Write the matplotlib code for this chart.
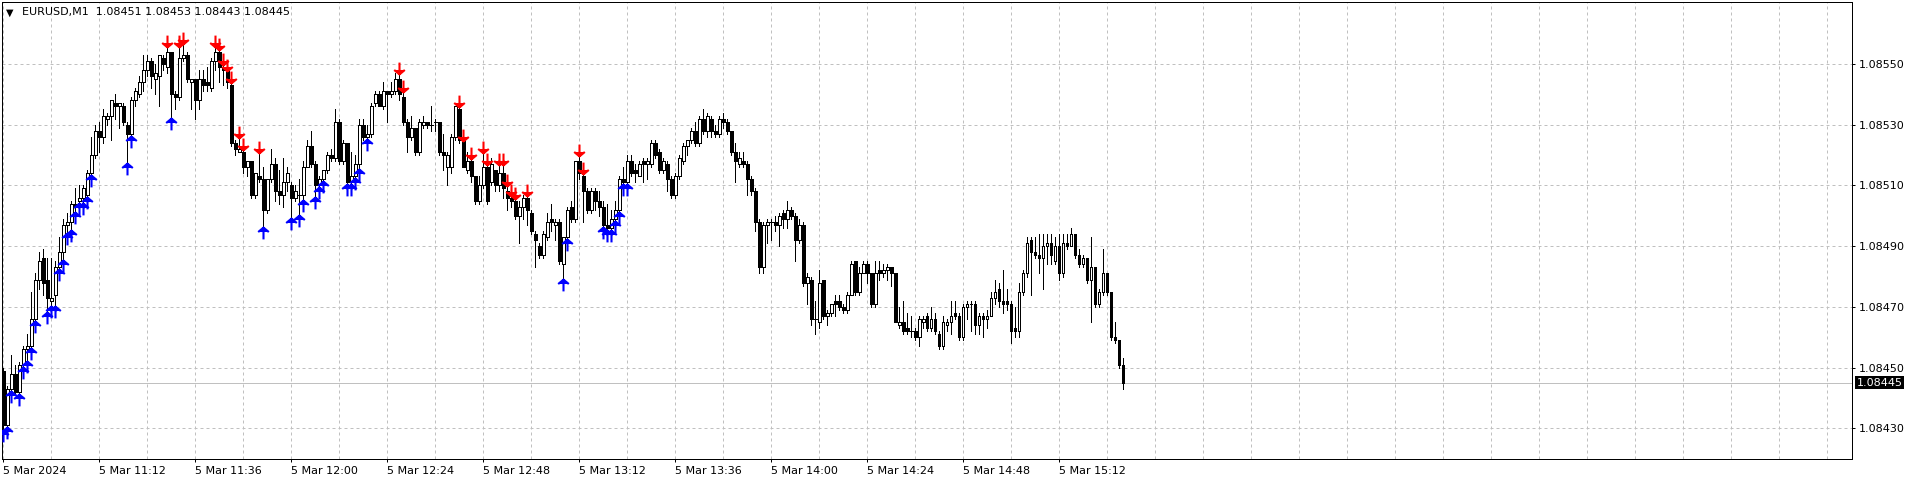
import matplotlib
matplotlib.use("Agg")

import matplotlib.pyplot as plt
import matplotlib.transforms as mtransforms
from matplotlib.path import Path
from matplotlib.ticker import MultipleLocator, FixedLocator
import numpy as np

SYMBOL = "EURUSD,M1"

# prices in points above 1.08000 (1 point = 0.00001), one bar per minute
BASE = 1.08
OPEN_PTS = [
    449, 431, 443, 448, 442, 451, 456, 457, 466, 479, 486, 479, 472, 474, 483, 488, 497, 498, 504, 505,
    506, 507, 514, 520, 528, 526, 532, 533, 537, 536, 536, 530, 527, 538, 540, 544, 548, 551, 545, 546,
    552, 549, 554, 540, 539, 552, 553, 544, 545, 538, 545, 544, 542, 551, 554, 549, 548, 543, 524, 521,
    521, 516, 518, 507, 513, 512, 502, 512, 517, 508, 507, 511, 510, 506, 507, 507, 516, 523, 517, 510,
    512, 515, 520, 519, 531, 518, 524, 511, 513, 517, 530, 526, 527, 537, 540, 536, 541, 540, 541, 545,
    539, 531, 526, 529, 521, 530, 531, 530, 531, 531, 521, 516, 516, 526, 535, 525, 515, 518, 513, 505,
    510, 516, 511, 515, 510, 514, 508, 506, 505, 500, 503, 506, 501, 494, 490, 487, 493, 499, 497, 498,
    484, 493, 503, 499, 518, 513, 508, 502, 508, 505, 503, 497, 496, 499, 502, 512, 511, 518, 515, 513,
    518, 517, 517, 524, 521, 515, 517, 512, 507, 513, 518, 523, 525, 528, 524, 532, 528, 532, 528, 527,
    532, 531, 528, 521, 517, 518, 517, 512, 508, 498, 483, 497, 498, 498, 497, 501, 499, 502, 500, 492,
    497, 478, 479, 466, 465, 479, 467, 468, 472, 472, 470, 469, 474, 485, 475, 481, 484, 481, 471, 482,
    481, 482, 483, 481, 464, 465, 463, 462, 462, 460, 465, 467, 463, 466, 461, 457, 464, 465, 468, 467,
    460, 470, 471, 471, 464, 467, 466, 467, 473, 476, 472, 472, 471, 463, 462, 475, 481, 492, 488, 487,
    486, 490, 491, 485, 490, 481, 491, 490, 494, 487, 484, 486, 479, 483, 471, 475, 481, 475, 460, 459,
    451,
]
HIGH_PTS = [
    450, 444, 454, 451, 452, 457, 461, 475, 481, 488, 489, 486, 486, 485, 493, 499, 501, 505, 509, 510,
    510, 515, 526, 530, 531, 535, 534, 538, 540, 537, 537, 531, 539, 542, 546, 553, 553, 552, 550, 553,
    553, 556, 554, 541, 556, 557, 554, 545, 545, 548, 548, 549, 552, 556, 555, 550, 548, 544, 525, 526,
    522, 518, 518, 514, 521, 516, 512, 522, 519, 515, 519, 516, 511, 510, 512, 518, 525, 528, 518, 513,
    515, 521, 522, 535, 532, 525, 524, 521, 520, 532, 532, 530, 537, 541, 541, 544, 541, 544, 547, 547,
    541, 532, 533, 529, 532, 533, 531, 536, 532, 531, 527, 521, 527, 536, 536, 525, 521, 519, 513, 513,
    521, 517, 519, 515, 517, 517, 510, 507, 506, 505, 507, 507, 502, 495, 491, 495, 501, 504, 499, 499,
    493, 503, 505, 518, 520, 514, 509, 509, 509, 508, 505, 504, 502, 505, 513, 516, 520, 520, 517, 518,
    519, 519, 525, 525, 522, 519, 518, 513, 514, 520, 524, 525, 529, 531, 533, 535, 534, 533, 530, 533,
    534, 532, 528, 524, 521, 521, 518, 513, 509, 499, 498, 499, 499, 500, 501, 502, 505, 503, 501, 499,
    498, 481, 480, 472, 482, 479, 469, 471, 474, 474, 471, 475, 485, 485, 483, 485, 485, 481, 485, 485,
    484, 484, 483, 481, 470, 472, 468, 467, 463, 467, 467, 468, 470, 468, 462, 467, 466, 472, 472, 468,
    471, 472, 472, 472, 468, 468, 469, 475, 479, 478, 482, 476, 472, 470, 478, 482, 493, 493, 493, 494,
    494, 494, 494, 493, 494, 494, 494, 496, 494, 489, 487, 486, 493, 483, 476, 489, 481, 475, 465, 459,
    453,
]
LOW_PTS = [
    429, 430, 442, 441, 441, 450, 452, 456, 465, 476, 474, 468, 470, 470, 482, 485, 494, 495, 501, 504,
    504, 506, 513, 519, 521, 524, 530, 525, 532, 529, 530, 517, 526, 536, 539, 541, 546, 542, 540, 536,
    548, 547, 532, 535, 538, 551, 544, 535, 532, 535, 541, 541, 541, 548, 544, 543, 542, 523, 520, 521,
    514, 513, 506, 506, 511, 496, 501, 511, 505, 504, 503, 508, 499, 505, 500, 505, 516, 516, 506, 509,
    511, 514, 518, 518, 517, 517, 510, 510, 512, 515, 525, 525, 526, 536, 536, 535, 531, 539, 540, 538,
    530, 521, 525, 520, 520, 529, 529, 528, 528, 520, 515, 510, 514, 525, 524, 516, 514, 511, 504, 504,
    509, 504, 510, 508, 508, 506, 502, 503, 499, 491, 499, 497, 494, 483, 486, 486, 492, 495, 492, 484,
    479, 492, 498, 498, 512, 498, 501, 501, 502, 500, 496, 495, 495, 498, 501, 510, 510, 513, 511, 513,
    511, 512, 516, 519, 514, 514, 508, 506, 506, 512, 517, 520, 524, 523, 523, 527, 526, 526, 526, 526,
    529, 527, 520, 511, 516, 516, 507, 507, 495, 481, 481, 491, 492, 495, 490, 496, 496, 499, 485, 491,
    477, 471, 464, 461, 463, 466, 464, 467, 467, 469, 468, 468, 474, 474, 474, 481, 478, 470, 470, 479,
    480, 479, 477, 465, 463, 461, 461, 460, 459, 457, 463, 462, 462, 461, 456, 456, 462, 461, 466, 459,
    459, 466, 462, 461, 461, 460, 463, 467, 471, 470, 468, 469, 458, 460, 460, 474, 480, 474, 486, 481,
    476, 484, 484, 484, 479, 480, 489, 490, 486, 483, 483, 478, 465, 470, 470, 474, 474, 459, 458, 450,
    443,
]
CLOSE_PTS = [
    431, 443, 448, 442, 451, 456, 457, 466, 479, 485, 478, 473, 473, 483, 488, 497, 498, 504, 503, 506,
    509, 514, 520, 528, 526, 533, 533, 538, 536, 537, 531, 527, 538, 541, 544, 548, 551, 546, 547, 553,
    550, 554, 540, 539, 552, 553, 545, 545, 538, 545, 543, 543, 551, 554, 549, 548, 544, 524, 522, 522,
    516, 518, 507, 514, 512, 502, 512, 517, 508, 507, 511, 514, 506, 508, 507, 516, 523, 517, 510, 512,
    515, 520, 519, 531, 518, 524, 511, 513, 517, 530, 526, 527, 536, 540, 536, 541, 540, 541, 545, 540,
    531, 526, 529, 521, 531, 531, 530, 530, 531, 521, 520, 520, 526, 536, 525, 516, 518, 513, 505, 510,
    516, 505, 517, 510, 514, 509, 506, 505, 500, 503, 506, 502, 495, 492, 487, 494, 498, 498, 498, 485,
    493, 502, 499, 518, 514, 508, 502, 508, 505, 503, 497, 496, 499, 502, 512, 511, 518, 514, 514, 517,
    517, 518, 524, 520, 515, 518, 512, 507, 513, 519, 523, 525, 528, 524, 532, 528, 533, 528, 527, 532,
    531, 528, 521, 518, 519, 517, 512, 508, 498, 483, 497, 498, 498, 497, 500, 499, 502, 500, 492, 497,
    478, 480, 466, 466, 478, 467, 468, 471, 471, 470, 469, 474, 484, 475, 481, 484, 481, 471, 481, 481,
    482, 483, 481, 465, 465, 462, 462, 462, 460, 466, 466, 463, 466, 462, 457, 465, 465, 467, 467, 460,
    470, 471, 471, 464, 467, 466, 467, 473, 475, 472, 471, 471, 462, 462, 475, 481, 491, 488, 487, 486,
    490, 491, 487, 490, 481, 491, 490, 494, 487, 484, 486, 479, 483, 471, 475, 481, 475, 460, 459, 451,
    445,
]

# bars carrying indicator arrows
SELL_BARS = [41, 44, 45, 53, 54, 55, 56, 57, 59, 60, 64, 99, 100, 114, 115, 117, 120, 121,
             124, 125, 126, 127, 128, 131, 144, 145]
BUY_BARS = [0, 1, 2, 4, 5, 6, 7, 8, 11, 12, 13, 14, 15, 16, 17, 18, 19, 20, 21, 22, 31, 32,
            42, 65, 72, 74, 75, 78, 79, 80, 86, 87, 88, 89, 91, 140, 141, 150, 151, 152,
            153, 154, 155, 156]

TIME_LABELS = ["5 Mar 2024", "5 Mar 11:12", "5 Mar 11:36", "5 Mar 12:00", "5 Mar 12:24",
               "5 Mar 12:48", "5 Mar 13:12", "5 Mar 13:36", "5 Mar 14:00", "5 Mar 14:24",
               "5 Mar 14:48", "5 Mar 15:12"]
LABEL_STEP = 24  # bars between time labels
PRICE_TICKS = [1.08430, 1.08450, 1.08470, 1.08490, 1.08510, 1.08530, 1.08550]

o = BASE + np.array(OPEN_PTS) * 1e-5
h = BASE + np.array(HIGH_PTS) * 1e-5
l = BASE + np.array(LOW_PTS) * 1e-5
c = BASE + np.array(CLOSE_PTS) * 1e-5
x = np.arange(len(o))

GRID = "#c0c0c0"
W, H = 1916, 483

fig = plt.figure(figsize=(W / 100, H / 100), dpi=100)
ax = fig.add_axes([2 / W, 24 / H, 1850 / W, 457 / H])
ax.set_xlim(-0.33, 462.2)
ax.set_ylim(1.084199, 1.085704)

# grid
ax.xaxis.set_major_locator(FixedLocator(np.arange(len(TIME_LABELS)) * LABEL_STEP))
ax.xaxis.set_minor_locator(MultipleLocator(12))
ax.set_xticklabels(TIME_LABELS, ha="left")
ax.set_yticks(PRICE_TICKS)
ax.set_yticklabels(["%.5f" % p for p in PRICE_TICKS])
ax.grid(True, which="both", axis="x", color=GRID, linestyle=(0, (3, 3)), lw=0.72)
ax.grid(True, which="major", axis="y", color=GRID, linestyle=(0, (3, 3)), lw=0.72)
ax.set_axisbelow(True)

ax.yaxis.tick_right()
ax.tick_params(axis="both", which="major", length=2, width=0.72, pad=3,
               labelsize=8, colors="black")
ax.tick_params(axis="x", which="minor", length=0)
for sp in ax.spines.values():
    sp.set_linewidth(0.72)
    sp.set_color("black")

# bid line
ax.axhline(c[-1], color=GRID, lw=0.72, zorder=1)

# candles
ax.vlines(x, l, h, color="black", lw=0.72, zorder=2, antialiased=False)
bull = c >= o
ax.bar(x, np.abs(c - o), bottom=np.minimum(o, c), width=0.62,
       color=np.where(bull, "white", "black"), edgecolor="black",
       linewidth=0.72, zorder=3, antialiased=False)

# indicator arrows (shaft plus chevron head)
down = Path([(0, 1), (0, -1), (-0.9, -0.25), (0, -1), (0.9, -0.25)],
            [Path.MOVETO, Path.LINETO, Path.MOVETO, Path.LINETO, Path.LINETO])
up = Path([(0, -1), (0, 1), (-0.9, 0.25), (0, 1), (0.9, 0.25)],
          [Path.MOVETO, Path.LINETO, Path.MOVETO, Path.LINETO, Path.LINETO])
above = mtransforms.offset_copy(ax.transData, fig=fig, x=0, y=5, units="dots")
below = mtransforms.offset_copy(ax.transData, fig=fig, x=0, y=-5, units="dots")
ax.plot(x[SELL_BARS], h[SELL_BARS], linestyle="none", marker=down, markersize=8.5,
        markeredgewidth=1.5, color="#ff0000", transform=above, zorder=4)
ax.plot(x[BUY_BARS], l[BUY_BARS], linestyle="none", marker=up, markersize=8.5,
        markeredgewidth=1.5, color="#0000ff", transform=below, zorder=4)

# last price tag
tag = mtransforms.blended_transform_factory(ax.transAxes, ax.transData)
ax.text(1.0025, c[-1], "%.5f" % c[-1], transform=tag, color="white", fontsize=8,
        va="center", ha="left", zorder=5,
        bbox=dict(facecolor="black", edgecolor="none", pad=1.2))

# header
fig.text(6 / W, 1 - 12.5 / H, "\u25bc", fontsize=7, va="center", ha="left")
header = "%s  %.5f %.5f %.5f %.5f" % (SYMBOL, o[-1], h[-1], l[-1], c[-1])
fig.text(22 / W, 1 - 12.5 / H, header, fontsize=8, va="center", ha="left")

fig.savefig("out.png", dpi=100, facecolor="white")
